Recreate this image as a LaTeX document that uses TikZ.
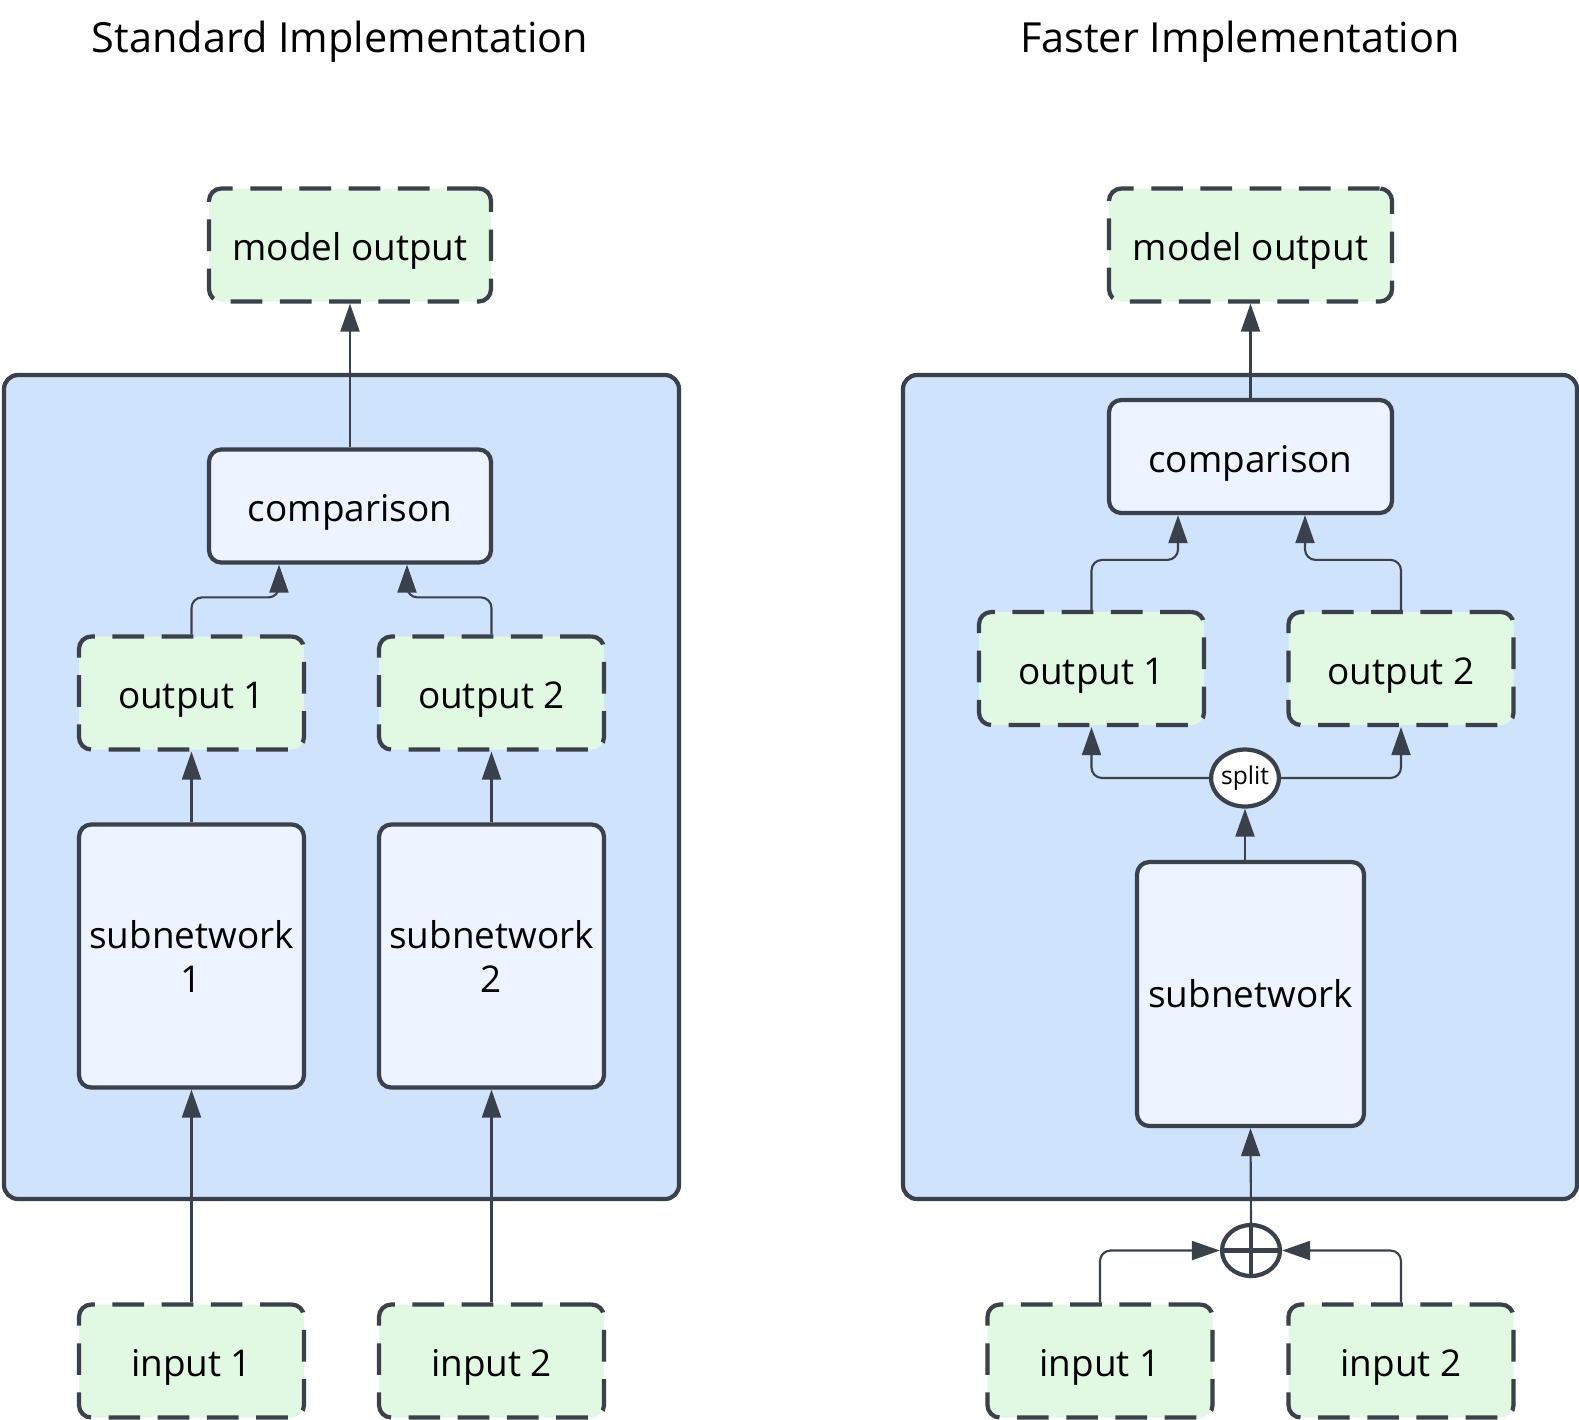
\documentclass[tikz,border=0pt]{standalone}
\usepackage{fontspec}
\setmainfont{Open Sans}
\usetikzlibrary{arrows.meta,shapes.geometric}

\definecolor{linec}{HTML}{3A414A}
\definecolor{panelc}{HTML}{CFE3FD}
\definecolor{blockc}{HTML}{EDF4FF}
\definecolor{datac}{HTML}{E1F9E3}

\tikzset{
  panel/.style={draw=linec, line width=1.2pt, fill=panelc, rounded corners=4pt},
  blockbox/.style={draw=linec, line width=1.2pt, fill=blockc, rounded corners=3.5pt,
    minimum width=2.25cm, minimum height=1.13cm, inner sep=1pt, align=center,
    font=\fontsize{10.5}{12.5}\selectfont},
  oneline/.style={text height=0.9em, text depth=0pt},
  databox/.style={blockbox, oneline, fill=datac, dash pattern=on 9pt off 5pt},
  flow/.style={draw=linec, line width=0.6pt, rounded corners=3pt,
    -{Triangle[length=0.28cm,width=0.19cm]}},
  heading/.style={oneline, font=\fontsize{11.8}{14}\selectfont}
}

\begin{document}
\begin{tikzpicture}
\useasboundingbox (0,0) rectangle (15.79,-14.19);
% titles
\node[heading] (ltitle) at (3.40,-0.37) {Standard Implementation};
\node[heading] (rtitle) at (12.40,-0.37) {Faster Implementation};
% panels
\draw[panel] (0.04,-3.75) rectangle (6.79,-11.99);
\draw[panel] (9.03,-3.75) rectangle (15.77,-11.99);
% standard
\node[databox, minimum width=2.82cm] (lmodel) at (3.50,-2.45) {model output};
\node[blockbox, oneline, minimum width=2.82cm] (lcomp) at (3.50,-5.06) {comparison};
\node[databox] (lout1) at (1.915,-6.93) {output 1};
\node[databox] (lout2) at (4.915,-6.93) {output 2};
\node[blockbox, minimum height=2.63cm] (lsub1) at (1.915,-9.56) {subnetwork\\1};
\node[blockbox, minimum height=2.63cm] (lsub2) at (4.915,-9.56) {subnetwork\\2};
\node[databox] (lin1) at (1.915,-13.61) {input 1};
\node[databox] (lin2) at (4.915,-13.61) {input 2};
% faster
\node[databox, minimum width=2.83cm] (rmodel) at (12.505,-2.45) {model output};
\node[blockbox, oneline, minimum width=2.83cm] (rcomp) at (12.505,-4.565) {comparison};
\node[databox] (rout1) at (10.915,-6.685) {output 1};
\node[databox] (rout2) at (14.01,-6.685) {output 2};
\node[ellipse, draw=linec, line width=1.2pt, fill=white, minimum width=0.66cm,
  minimum height=0.57cm, inner sep=0pt, font=\fontsize{7}{8}\selectfont] (split) at (12.45,-7.78) {split};
\node[blockbox, oneline, text height=0.76em, minimum height=2.64cm, minimum width=2.27cm] (rsub) at (12.505,-9.94) {subnetwork};
\node[ellipse, draw=linec, line width=1.2pt, fill=white, minimum width=0.58cm,
  minimum height=0.51cm, inner sep=0pt] (merge) at (12.51,-12.505) {};
\draw[linec, line width=1.2pt] (merge.north) -- (merge.south) (merge.west) -- (merge.east);
\node[databox] (rin1) at (11.0,-13.61) {input 1};
\node[databox] (rin2) at (14.01,-13.61) {input 2};
% connectors, standard
\draw[flow] (lin1.north) -- (lsub1.south);
\draw[flow] (lin2.north) -- (lsub2.south);
\draw[flow] (lsub1.north) -- (lout1.south);
\draw[flow] (lsub2.north) -- (lout2.south);
\draw[flow] (lout1.north) -- ++(0,0.37) -| ([xshift=-0.71cm]lcomp.south);
\draw[flow] (lout2.north) -- ++(0,0.37) -| ([xshift=0.57cm]lcomp.south);
\draw[flow] (lcomp.north) -- (lmodel.south);
% connectors, faster
\draw[flow] (rin1.north) |- (merge.west);
\draw[flow] (rin2.north) |- (merge.east);
\draw[flow] (merge.north) -- (rsub.south);
\draw[flow] (rsub.north -| split.south) -- (split.south);
\draw[flow] (split.west) -| (rout1.south);
\draw[flow] (split.east) -| (rout2.south);
\draw[flow] (rout1.north) -- ++(0,0.50) -| ([xshift=-0.725cm]rcomp.south);
\draw[flow] (rout2.north) -- ++(0,0.50) -| ([xshift=0.545cm]rcomp.south);
\draw[flow] (rcomp.north) -- (rmodel.south);
\end{tikzpicture}
\end{document}
